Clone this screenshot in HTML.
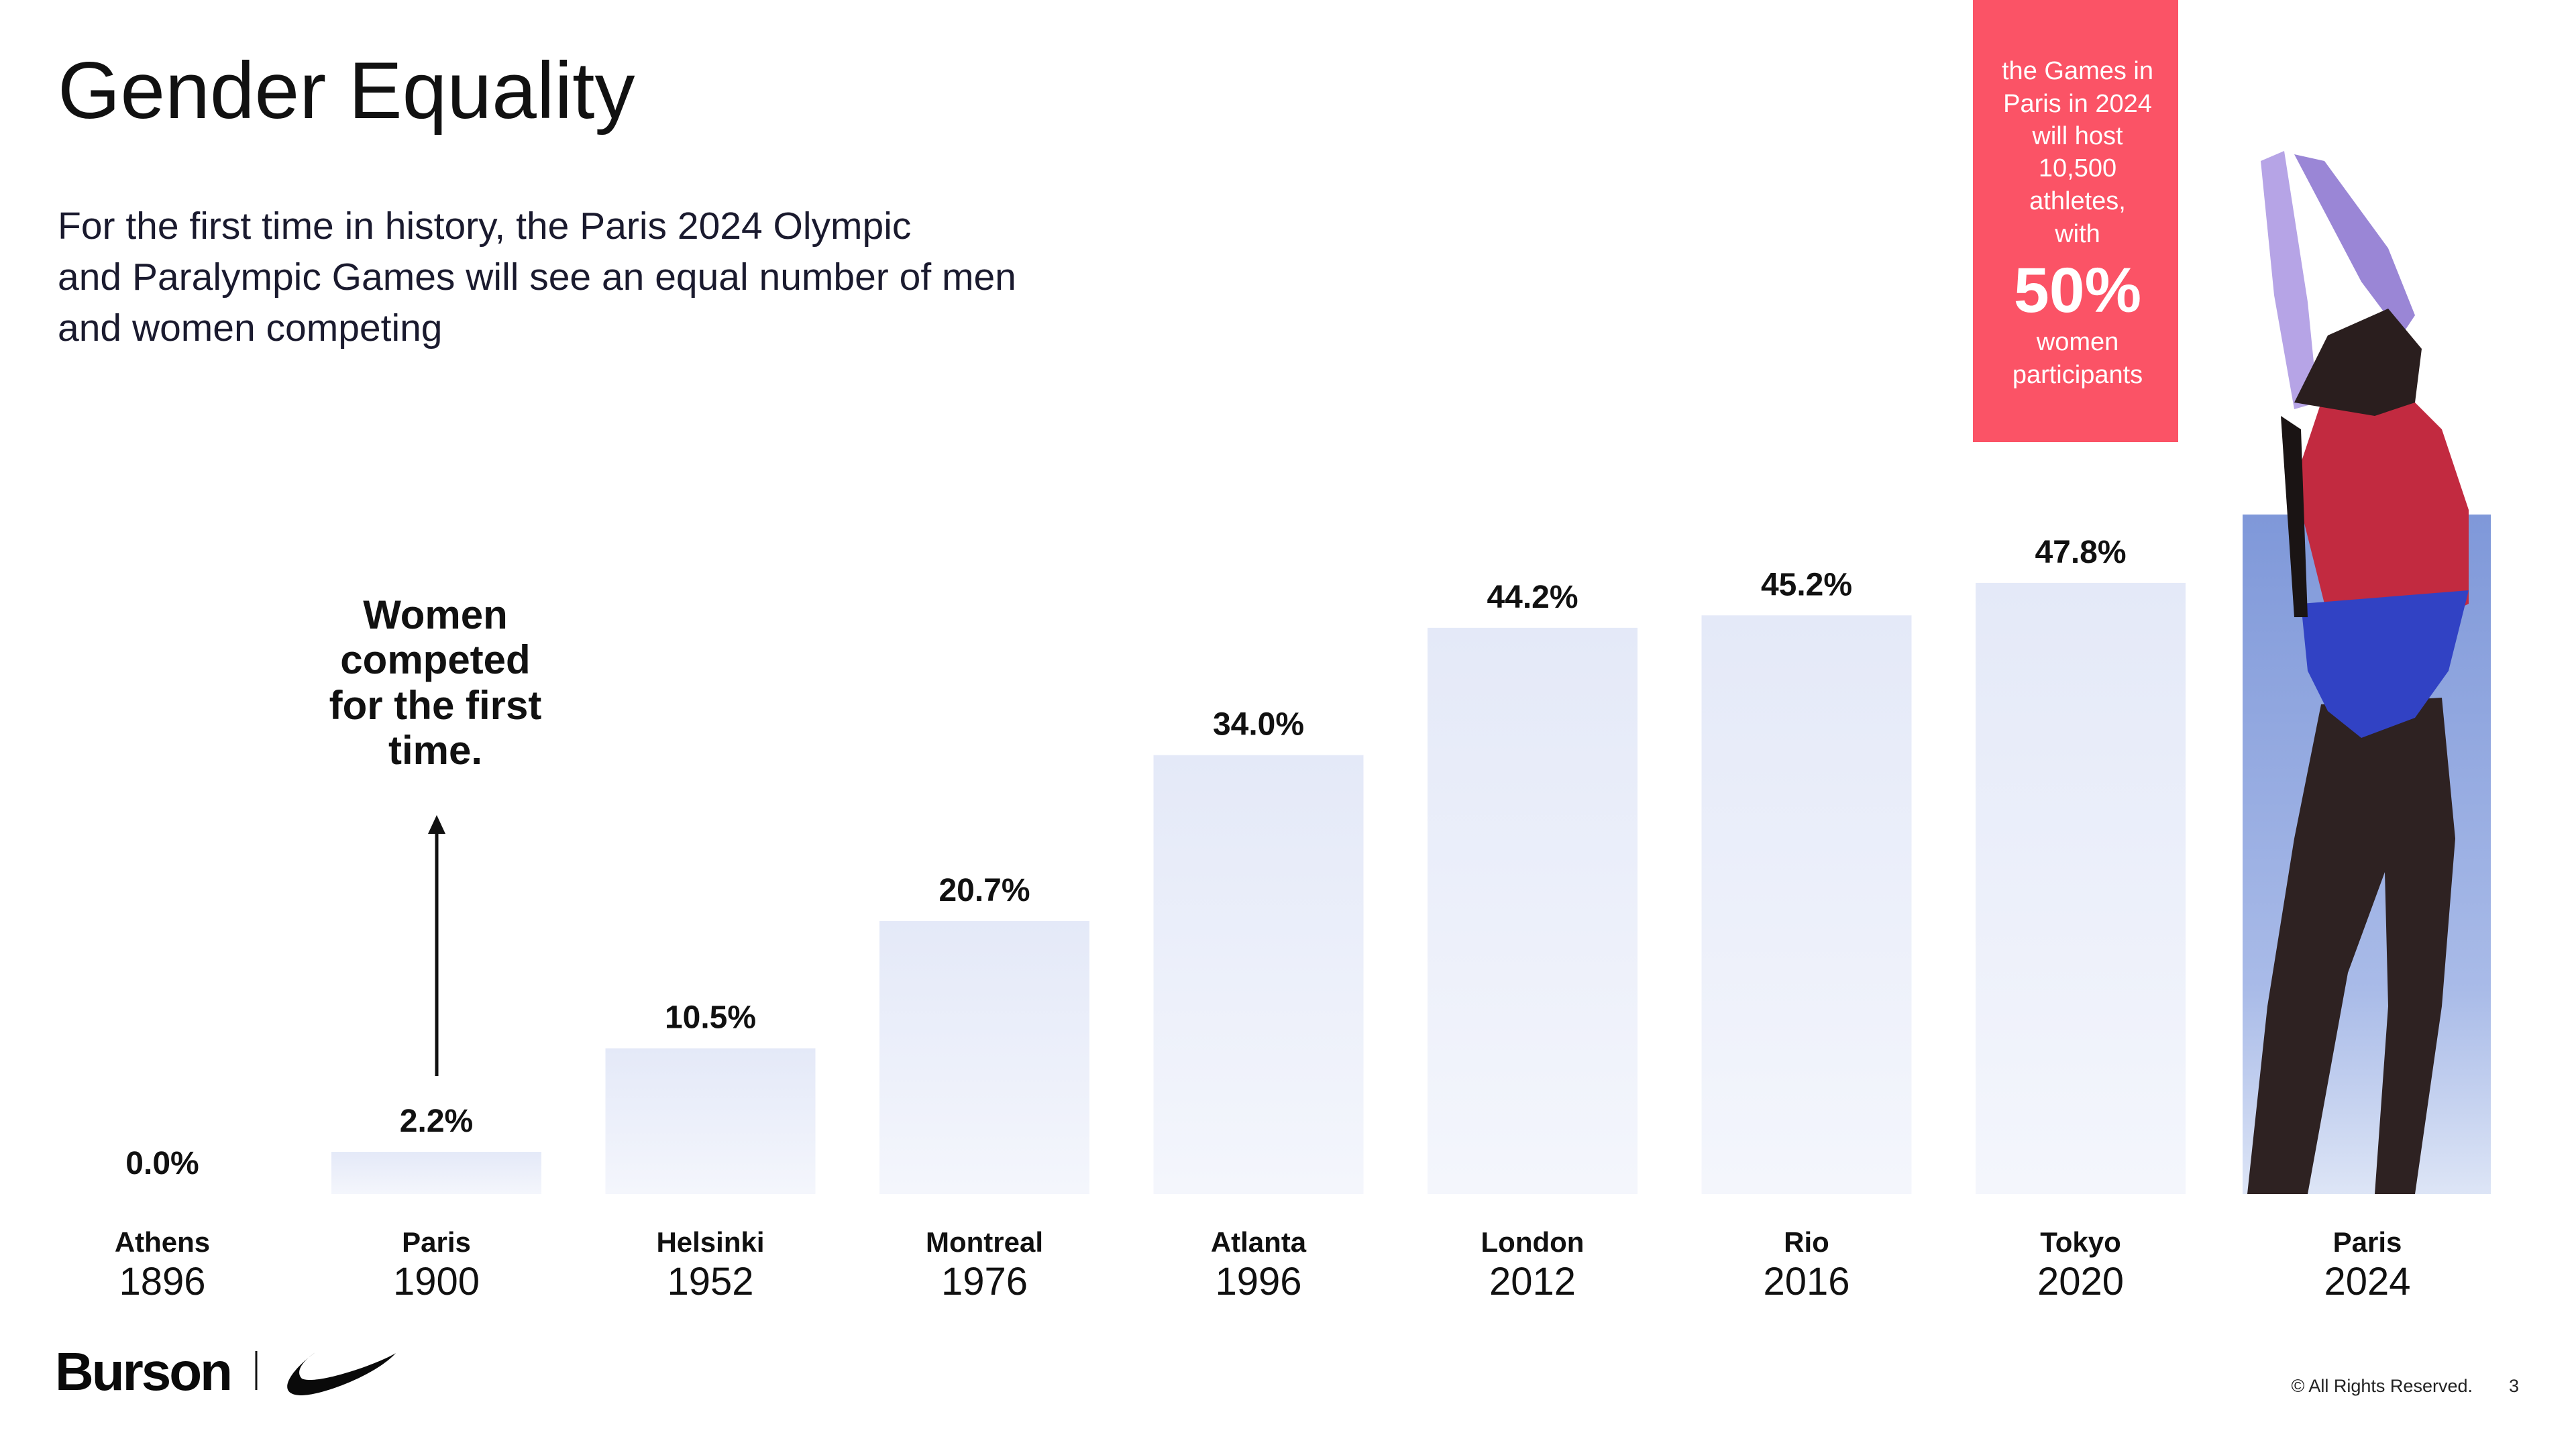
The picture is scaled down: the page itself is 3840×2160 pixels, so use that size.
<!DOCTYPE html>
<html><head><meta charset="utf-8">
<style>
html,body{margin:0;padding:0;background:#fff;}
svg{display:block;font-family:"Liberation Sans",Arial,sans-serif;}
</style></head>
<body>
<svg id="chart" width="3840" height="2160" viewBox="0 0 3840 2160" xmlns="http://www.w3.org/2000/svg">
<defs>
<linearGradient id="barGrad" x1="0" y1="0" x2="0" y2="1">
<stop offset="0" stop-color="#e4e9f8"/><stop offset="1" stop-color="#f4f6fc"/>
</linearGradient>
<linearGradient id="skyGrad" x1="0" y1="0" x2="0" y2="1">
<stop offset="0" stop-color="#7f98d9"/><stop offset="0.7" stop-color="#a9bbe8"/><stop offset="1" stop-color="#dde5f6"/>
</linearGradient>
</defs>
<text x="86" y="176" font-size="120" fill="#111">Gender Equality</text>
<g font-size="57" fill="#1a1a2e">
<text x="86" y="356">For the first time in history, the Paris 2024 Olympic</text>
<text x="86" y="432">and Paralympic Games will see an equal number of men</text>
<text x="86" y="508">and women competing</text>
</g>
<rect x="2941" y="0" width="306" height="659" fill="#fb5366"/>
<g fill="#fff" text-anchor="middle" font-size="38">
<text x="3097" y="118">the Games in</text>
<text x="3097" y="167">Paris in 2024</text>
<text x="3097" y="215">will host</text>
<text x="3097" y="263">10,500</text>
<text x="3097" y="312">athletes,</text>
<text x="3097" y="361">with</text>
<text x="3097" y="465" font-size="95" font-weight="bold">50%</text>
<text x="3097" y="522">women</text>
<text x="3097" y="571">participants</text>
</g>
<g id="bars"></g>
<g>
<g font-size="60" font-weight="bold" text-anchor="middle" fill="#111">
<text x="649" y="937">Women</text>
<text x="649" y="1004">competed</text>
<text x="649" y="1072">for the first</text>
<text x="649" y="1139">time.</text>
</g>
<line x1="651" y1="1604" x2="651" y2="1240" stroke="#111" stroke-width="5"/>
<polygon points="651,1215 638,1243 664,1243" fill="#111"/>
</g>
<g>
<text x="82" y="2072" font-size="80" font-weight="bold" fill="#0a0a0a" letter-spacing="-3">Burson</text>
<line x1="382" y1="2014" x2="382" y2="2072" stroke="#111" stroke-width="3"/>
<path d="M470,2016 C430,2045 410,2080 450,2080 C480,2080 560,2050 590,2017 C560,2035 470,2065 450,2055 C440,2045 450,2030 470,2016 Z" fill="#0a0a0a"/>
</g>
<text x="3686" y="2075" font-size="27" text-anchor="end" fill="#222">© All Rights Reserved.</text>
<text x="3755" y="2075" font-size="27" text-anchor="end" fill="#222">3</text>
</svg>
<script>
const cities = ["Athens","Paris","Helsinki","Montreal","Atlanta","London","Rio","Tokyo","Paris"];
const years = ["1896","1900","1952","1976","1996","2012","2016","2020","2024"];
const values = [0.0, 2.2, 10.5, 20.7, 34.0, 44.2, 45.2, 47.8, 50];
const valueLabels = ["0.0%","2.2%","10.5%","20.7%","34.0%","44.2%","45.2%","47.8%",""];

const NS = "http://www.w3.org/2000/svg";
const baseY = 1780, pxPerPct = 18.6, pxOffset = 22, firstX = 242, step = 408.5, barW = 313;
function xCenter(i){ return firstX + i*step; }
function yOf(v){ return v > 0 ? baseY - pxOffset - v*pxPerPct : baseY; }
const g = document.getElementById("bars");
function mk(tag, attrs){ const e=document.createElementNS(NS,tag); for(const k in attrs) e.setAttribute(k,attrs[k]); return e; }

values.forEach((v,i)=>{
  const cx = xCenter(i);
  const last = i === values.length-1;
  if (last) {
    const px = 3343, pw = 370, top = yOf(v) - 61;
    const bg = mk("rect",{x:px,y:top,width:pw,height:baseY-top,fill:"url(#skyGrad)"});
    
    
    g.appendChild(bg);
    const fig = mk("g",{});
    
    
    fig.innerHTML =
      '<path d="M3350,1780 L3380,1500 L3420,1250 L3460,1050 L3640,1040 L3660,1250 L3640,1500 L3600,1780 L3540,1780 L3560,1500 L3555,1300 L3500,1450 L3440,1780 Z" fill="#2e2222"/>'+
      '<path d="M3420,720 L3470,570 L3560,560 L3640,640 L3680,760 L3680,900 L3600,940 L3470,920 Z" fill="#c22a40"/>'+
      '<path d="M3430,900 L3680,880 L3650,1000 L3600,1070 L3520,1100 L3470,1060 L3440,1000 Z" fill="#3142c4"/>'+
      '<path d="M3370,240 L3405,225 L3440,450 L3455,600 L3420,610 L3390,440 Z" fill="#b6a4e6"/>'+
      '<path d="M3420,230 L3465,240 L3560,370 L3600,470 L3580,500 L3520,420 Z" fill="#9a86d6"/>'+
      '<path d="M3420,600 L3470,500 L3560,460 L3610,520 L3600,600 L3540,620 Z" fill="#2a1e1e"/>'+
      '<path d="M3400,620 L3420,920 L3440,920 L3430,640 Z" fill="#1a1414"/>';
    g.appendChild(fig);
  } else {
    if (v > 0) {
      const r = mk("rect",{x:cx-barW/2,y:yOf(v),width:barW,height:baseY-yOf(v),fill:"url(#barGrad)"});
      
      
      g.appendChild(r);
    }
    const t = mk("text",{x:cx,y:yOf(v)-30,"text-anchor":"middle","font-size":"48","font-weight":"bold",fill:"#111"});
    t.textContent = valueLabels[i];
    
    
    g.appendChild(t);
  }
  const cxl = last ? 3529 : cx;
  const c = mk("text",{x:cxl,y:1866,"text-anchor":"middle","font-size":"42","font-weight":"bold",fill:"#111"});
  c.textContent = cities[i];
  
  
  g.appendChild(c);
  const y = mk("text",{x:cxl,y:1930,"text-anchor":"middle","font-size":"58",fill:"#111"});
  y.textContent = years[i];
  
  
  g.appendChild(y);
});
</script>
</body></html>
